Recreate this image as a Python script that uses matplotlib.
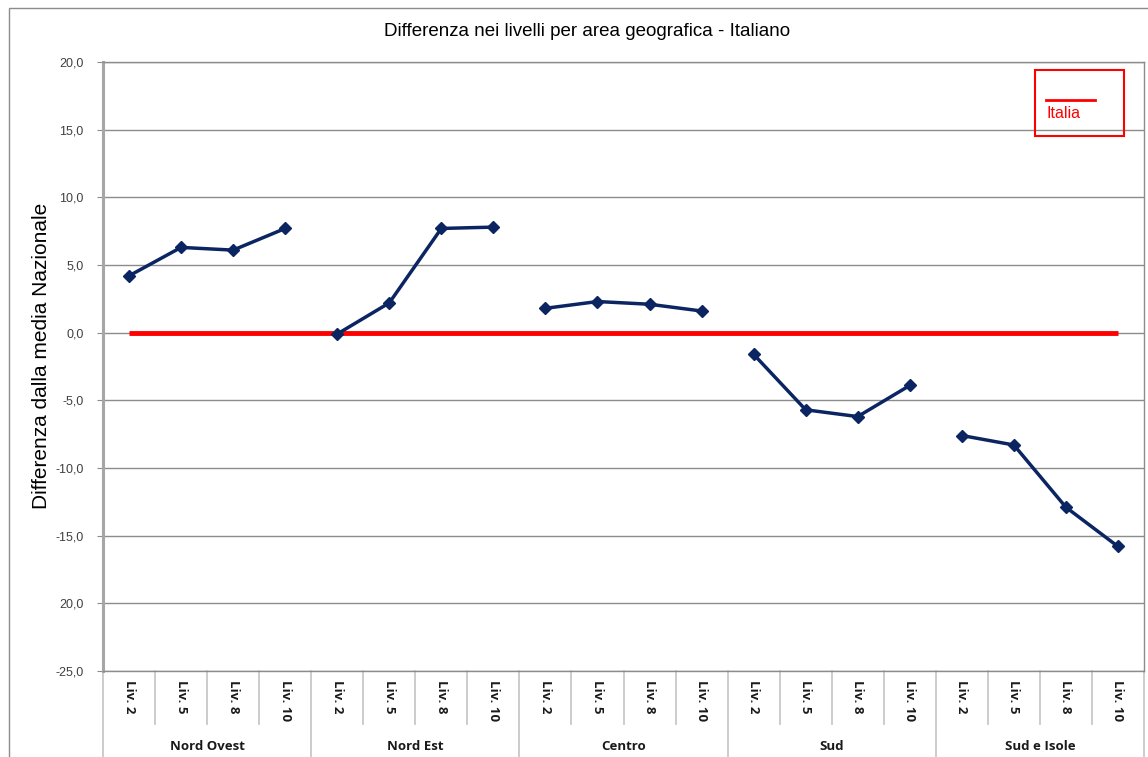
import matplotlib
matplotlib.use("Agg")
import matplotlib.pyplot as plt
from matplotlib.patches import Rectangle
from matplotlib.lines import Line2D
import matplotlib.transforms as mtrans
import numpy as np

# ---- data ----
groups = ["Nord Ovest", "Nord Est", "Centro", "Sud", "Sud e Isole"]
levels = ["Liv. 2", "Liv. 5", "Liv. 8", "Liv. 10"]
nord_ovest = [4.2, 6.3, 6.1, 7.7]
nord_est = [-0.1, 2.2, 7.7, 7.8]
centro = [1.8, 2.3, 2.1, 1.6]
sud = [-1.6, -5.7, -6.2, -3.9]
sud_isole = [-7.6, -8.3, -12.9, -15.8]
italia = [0.0] * 20
y_ticks = [20, 15, 10, 5, 0, -5, -10, -15, -20, -25]
y_tick_labels = ["20,0", "15,0", "10,0", "5,0", "0,0", "-5,0", "-10,0", "-15,0", "20,0", "-25,0"]
title = "Differenza nei livelli per area geografica - Italiano"
ylabel = "Differenza dalla media Nazionale"
legend_label = "Italia"

W, H = 1148, 757
fig = plt.figure(figsize=(W / 100, H / 100), dpi=100)
fig.patch.set_facecolor("white")

def fx(px):
    return px / W

def fy(py):
    return 1 - py / H

# outer chart border
fig.add_artist(Rectangle((fx(9), fy(780)), fx(1200) - fx(9), fy(8) - fy(780),
                         transform=fig.transFigure, fill=False, edgecolor="#8c8c8c", lw=1.0))

ax = fig.add_axes([fx(103), fy(671), fx(1144) - fx(103), fy(62) - fy(671)])
ax.set_xlim(-0.5, 19.5)
ax.set_ylim(-25, 20)

# grid
ax.set_yticks(y_ticks)
ax.set_yticklabels(y_tick_labels, fontsize=9, color="#404040", family="Liberation Sans")
ax.yaxis.grid(True, color="#8c8c8c", lw=1.0)
ax.set_axisbelow(True)
ax.tick_params(axis="y", length=4, color="#8c8c8c", pad=10)
ax.set_xticks([])
for s in ["top", "right", "bottom"]:
    ax.spines[s].set_color("#8c8c8c")
    ax.spines[s].set_linewidth(1.0)
ax.spines["left"].set_color("#a6a6a6")
ax.spines["left"].set_linewidth(2.2)

# Italia line
xs_all = np.arange(20)
ax.plot(xs_all, italia, color="#ff0000", lw=3.5, solid_capstyle="butt", zorder=3)

# group series
navy = "#0b2563"
series = [nord_ovest, nord_est, centro, sud, sud_isole]
for gi, vals in enumerate(series):
    xs = np.arange(4) + gi * 4
    ax.plot(xs, vals, color=navy, lw=2.5, marker="D", markersize=6,
            markeredgecolor=navy, markerfacecolor=navy, zorder=4)

# x axis two-level labels
trans = mtrans.blended_transform_factory(ax.transData, ax.transAxes)
ax_h = 609.0
y_inner = -(53 / ax_h)
y_outer = -(90 / ax_h)
sep_color = "#c8c8c8"
for i in range(21):
    xb = i - 0.5
    bottom = y_outer if i % 4 == 0 else y_inner
    ax.add_line(Line2D([xb, xb], [0, bottom], transform=trans, color=sep_color,
                       lw=1.3, clip_on=False))
for i in range(20):
    ax.text(i, -(9 / ax_h), levels[i % 4], transform=trans, rotation=270,
            ha="center", va="top", fontsize=9.5, fontweight="bold",
            family="Open Sans", color="#1a1a1a", clip_on=False)
for gi, g in enumerate(groups):
    ax.text(gi * 4 + 1.5, -(75 / ax_h), g, transform=trans, ha="center", va="center",
            fontsize=9.5, fontweight="bold", family="Open Sans", color="#1a1a1a",
            clip_on=False)

# title and y label
fig.text(fx(587), fy(32), title, ha="center", va="center", fontsize=13.5,
         family="Liberation Sans", color="#000000")
fig.text(fx(42), fy(356), ylabel, ha="center", va="center", rotation=90,
         fontsize=15, family="Liberation Sans", color="#000000")

# legend
fig.add_artist(Rectangle((fx(1035), fy(136)), fx(1124) - fx(1035), fy(70) - fy(136),
                         transform=fig.transFigure, fill=False, edgecolor="#ff0000", lw=1.5))
fig.add_artist(Line2D([fx(1046), fx(1095)], [fy(100), fy(100)], transform=fig.transFigure,
                      color="#ff0000", lw=2))
fig.text(fx(1047), fy(114), legend_label, ha="left", va="center", fontsize=11.5,
         family="Liberation Sans", color="#ff0000")

fig.savefig("out.png", dpi=100, facecolor="white")
